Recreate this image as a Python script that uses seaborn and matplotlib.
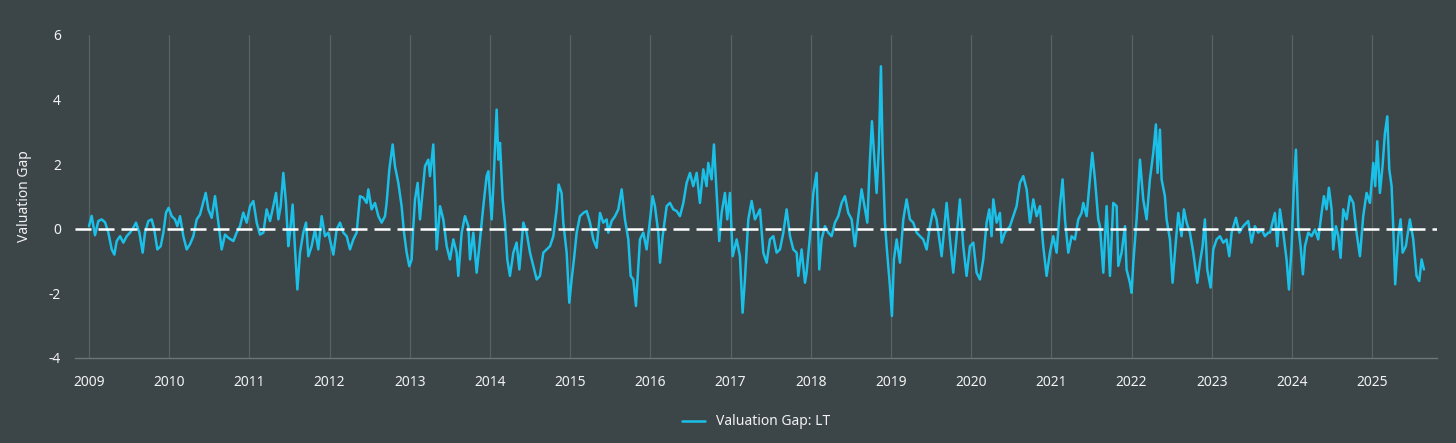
import pandas as pd
import matplotlib.pyplot as plt
import seaborn as sns

# ==========================================
# DATOS (año decimal / valor)
# ==========================================

years = [
    2009.000, 2009.033, 2009.075, 2009.116, 2009.158, 2009.200, 2009.241, 2009.283, 2009.316, 2009.345,
    2009.387, 2009.428, 2009.470, 2009.511, 2009.553, 2009.586, 2009.628, 2009.669, 2009.698, 2009.740,
    2009.781, 2009.810, 2009.852, 2009.894, 2009.927, 2009.960, 2009.993, 2010.031, 2010.072, 2010.101,
    2010.135, 2010.176, 2010.218, 2010.259, 2010.301, 2010.343, 2010.384, 2010.417, 2010.455, 2010.488,
    2010.530, 2010.571, 2010.613, 2010.654, 2010.696, 2010.737, 2010.800, 2010.841, 2010.883, 2010.924,
    2010.966,
    2011.008, 2011.049, 2011.091, 2011.132, 2011.174, 2011.215, 2011.257, 2011.298, 2011.332, 2011.361,
    2011.390, 2011.423, 2011.456, 2011.485, 2011.506, 2011.539, 2011.569, 2011.598, 2011.631, 2011.672,
    2011.706, 2011.735, 2011.776, 2011.818, 2011.859, 2011.901, 2011.943, 2011.984, 2012.047, 2012.088,
    2012.130, 2012.171, 2012.213, 2012.254, 2012.296, 2012.337, 2012.379, 2012.421, 2012.462, 2012.483,
    2012.524, 2012.566, 2012.608, 2012.649, 2012.691, 2012.711, 2012.745, 2012.786, 2012.815, 2012.857,
    2012.898, 2012.928, 2012.961, 2012.994, 2013.023, 2013.044, 2013.065, 2013.098,
    2013.127, 2013.190, 2013.231, 2013.252, 2013.293, 2013.314, 2013.335, 2013.377, 2013.418, 2013.439,
    2013.460, 2013.501, 2013.543, 2013.584, 2013.605, 2013.647, 2013.688, 2013.730, 2013.751, 2013.792,
    2013.834, 2013.875, 2013.917, 2013.958, 2013.979, 2014.021, 2014.042, 2014.083, 2014.104, 2014.125,
    2014.158, 2014.187, 2014.216, 2014.249, 2014.291, 2014.332, 2014.366, 2014.416, 2014.457, 2014.499,
    2014.540, 2014.582, 2014.623, 2014.665, 2014.706, 2014.748, 2014.790, 2014.831, 2014.856, 2014.893,
    2014.914, 2014.956, 2014.989, 2015.018, 2015.047, 2015.081, 2015.122, 2015.164, 2015.205,
    2015.247, 2015.288, 2015.330, 2015.372, 2015.413, 2015.455, 2015.475, 2015.517, 2015.559, 2015.600,
    2015.642, 2015.683, 2015.725, 2015.754, 2015.787, 2015.820, 2015.850, 2015.870, 2015.912, 2015.953,
    2015.987, 2016.028, 2016.057, 2016.099, 2016.120, 2016.153, 2016.203, 2016.244, 2016.286, 2016.327,
    2016.369, 2016.411, 2016.452, 2016.494, 2016.535, 2016.577, 2016.618, 2016.660, 2016.701, 2016.722,
    2016.764, 2016.793, 2016.826, 2016.859, 2016.888, 2016.930, 2016.959, 2016.992, 2017.026, 2017.076,
    2017.117, 2017.150, 2017.179, 2017.221, 2017.263, 2017.304, 2017.346,
    2017.367, 2017.408, 2017.450, 2017.491, 2017.533, 2017.574, 2017.616, 2017.658, 2017.699, 2017.741,
    2017.782, 2017.824, 2017.845, 2017.886, 2017.928, 2017.948, 2017.990, 2018.032, 2018.073, 2018.106,
    2018.135, 2018.177, 2018.219, 2018.260, 2018.302, 2018.343, 2018.385, 2018.426, 2018.468, 2018.510,
    2018.551, 2018.593, 2018.634, 2018.676, 2018.705, 2018.738, 2018.763, 2018.800, 2018.821, 2018.850,
    2018.875, 2018.896, 2018.925, 2018.946, 2018.987, 2019.012, 2019.037, 2019.071, 2019.112, 2019.154,
    2019.195, 2019.237, 2019.278, 2019.320, 2019.362, 2019.403, 2019.445,
    2019.486, 2019.528, 2019.569, 2019.632, 2019.694, 2019.736, 2019.777, 2019.819, 2019.860, 2019.902,
    2019.943, 2019.985, 2020.027, 2020.068, 2020.110, 2020.151, 2020.193, 2020.226, 2020.255, 2020.276,
    2020.318, 2020.359, 2020.380, 2020.421, 2020.484, 2020.525, 2020.567, 2020.608, 2020.650, 2020.692,
    2020.733, 2020.775, 2020.816, 2020.858, 2020.899, 2020.941, 2020.982, 2021.024, 2021.066, 2021.107,
    2021.140, 2021.170, 2021.211, 2021.253, 2021.294, 2021.336, 2021.377, 2021.398, 2021.440, 2021.481,
    2021.510, 2021.544, 2021.585,
    2021.606, 2021.648, 2021.689, 2021.731, 2021.772, 2021.814, 2021.835, 2021.876, 2021.918, 2021.938,
    2021.980, 2022.001, 2022.022, 2022.063, 2022.105, 2022.146, 2022.188, 2022.229, 2022.271, 2022.304,
    2022.325, 2022.354, 2022.375, 2022.416, 2022.437, 2022.479, 2022.512, 2022.541, 2022.583, 2022.624,
    2022.653, 2022.687, 2022.728, 2022.770, 2022.820, 2022.853, 2022.886, 2022.915, 2022.944, 2022.986,
    2023.019, 2023.061, 2023.102, 2023.144, 2023.185, 2023.219, 2023.248, 2023.302, 2023.343, 2023.393,
    2023.455, 2023.497, 2023.538, 2023.580, 2023.622, 2023.663, 2023.705,
    2023.726, 2023.767, 2023.788, 2023.817, 2023.850, 2023.892, 2023.933, 2023.963, 2023.996, 2024.025,
    2024.050, 2024.079, 2024.108, 2024.137, 2024.162, 2024.204, 2024.245, 2024.287, 2024.328, 2024.370,
    2024.399, 2024.432, 2024.461, 2024.495, 2024.515, 2024.549, 2024.578, 2024.607, 2024.640, 2024.682,
    2024.723, 2024.765, 2024.806, 2024.848, 2024.889, 2024.931, 2024.973, 2025.014, 2025.039, 2025.064,
    2025.097, 2025.130, 2025.160, 2025.189, 2025.214, 2025.243, 2025.263, 2025.288, 2025.326, 2025.355,
    2025.380, 2025.421, 2025.471, 2025.513, 2025.554, 2025.588, 2025.617, 2025.646,
]

gap = [
    0.08, 0.40, -0.20, 0.24, 0.29, 0.20, -0.12, -0.64, -0.80, -0.38,
    -0.23, -0.43, -0.23, -0.12, 0.03, 0.19, -0.12, -0.74, -0.12, 0.24,
    0.29, 0.03, -0.64, -0.54, -0.12, 0.50, 0.65, 0.39, 0.29, 0.08,
    0.39, -0.23, -0.64, -0.48, -0.23, 0.29, 0.44, 0.75, 1.11, 0.60,
    0.34, 1.01, 0.19, -0.64, -0.18, -0.28, -0.38, -0.12, 0.08, 0.50,
    0.19,
    0.70, 0.86, 0.19, -0.18, -0.12, 0.60, 0.24, 0.70, 1.11, 0.29,
    0.70, 1.73, 0.80, -0.54, -0.12, 0.75, -0.64, -1.88, -0.74, -0.12,
    0.19, -0.85, -0.54, -0.02, -0.64, 0.39, -0.23, -0.12, -0.80, -0.02,
    0.19, -0.12, -0.23, -0.64, -0.33, -0.12, 1.01, 0.96, 0.80, 1.22,
    0.60, 0.80, 0.39, 0.19, 0.39, 0.80, 1.84, 2.61, 1.94, 1.42,
    0.70, -0.12, -0.74, -1.16, -0.95, 0.08, 0.91, 1.42,
    0.29, 1.94, 2.14, 1.63, 2.61, 1.22, -0.64, 0.70, 0.29, -0.12,
    -0.54, -0.95, -0.33, -0.74, -1.46, -0.12, 0.39, 0.08, -0.95, -0.12,
    -1.36, -0.33, 0.70, 1.63, 1.78, 0.29, 1.32, 3.69, 2.14, 2.66,
    0.91, 0.19, -0.95, -1.46, -0.74, -0.43, -1.26, 0.19, -0.12, -0.74,
    -1.15, -1.57, -1.46, -0.74, -0.64, -0.54, -0.23, 0.60, 1.37, 1.11,
    0.19, -0.74, -2.29, -1.57, -0.95, -0.12, 0.39, 0.49, 0.55,
    0.19, -0.33, -0.59, 0.49, 0.19, 0.29, -0.12, 0.24, 0.39, 0.60,
    1.22, 0.29, -0.33, -1.46, -1.57, -2.39, -1.15, -0.33, -0.12, -0.64,
    0.08, 1.01, 0.70, -0.12, -1.05, -0.23, 0.70, 0.80, 0.60, 0.55,
    0.39, 0.80, 1.42, 1.73, 1.32, 1.73, 0.80, 1.84, 1.32, 2.04,
    1.53, 2.61, 1.11, -0.38, 0.49, 1.11, 0.29, 1.11, -0.85, -0.33,
    -0.85, -2.60, -1.57, 0.29, 0.86, 0.29, 0.49,
    0.60, -0.74, -1.05, -0.33, -0.23, -0.74, -0.64, -0.12, 0.60, -0.23,
    -0.64, -0.74, -1.46, -0.64, -1.67, -1.36, -0.23, 1.11, 1.73, -1.26,
    -0.33, 0.08, -0.12, -0.23, 0.19, 0.39, 0.80, 1.01, 0.49, 0.29,
    -0.54, 0.39, 1.22, 0.60, 0.19, 2.14, 3.33, 1.94, 1.11, 2.56,
    5.03, 2.35, 0.19, -0.54, -1.77, -2.70, -0.95, -0.33, -1.05, 0.29,
    0.91, 0.29, 0.19, -0.12, -0.23, -0.33, -0.64,
    0.08, 0.60, 0.29, -0.85, 0.80, -0.33, -1.36, -0.23, 0.91, -0.54,
    -1.46, -0.54, -0.43, -1.36, -1.57, -0.95, 0.19, 0.60, -0.23, 0.91,
    0.19, 0.49, -0.43, -0.12, 0.08, 0.39, 0.70, 1.42, 1.63, 1.22,
    0.19, 0.91, 0.39, 0.70, -0.54, -1.46, -0.74, -0.23, -0.74, 0.70,
    1.53, 0.29, -0.74, -0.23, -0.33, 0.29, 0.49, 0.80, 0.39, 1.53,
    2.35, 1.53, 0.29,
    0.08, -1.36, 0.70, -1.46, 0.80, 0.70, -1.15, -0.74, 0.08, -1.26,
    -1.67, -1.98, -1.05, 0.29, 2.14, 0.91, 0.29, 1.53, 2.35, 3.23,
    1.73, 3.07, 1.53, 1.01, 0.29, -0.33, -1.67, -0.74, 0.49, -0.23,
    0.60, 0.19, -0.12, -0.74, -1.67, -1.05, -0.54, 0.29, -1.26, -1.82,
    -0.64, -0.33, -0.23, -0.43, -0.33, -0.85, -0.12, 0.34, -0.12, 0.08,
    0.24, -0.43, 0.08, -0.12, -0.02, -0.23, -0.12,
    -0.12, 0.29, 0.49, -0.54, 0.60, -0.12, -0.95, -1.88, -0.54, 1.32,
    2.45, 0.08, -0.54, -1.41, -0.54, -0.12, -0.23, -0.02, -0.33, 0.49,
    1.01, 0.60, 1.27, 0.60, -0.64, 0.08, -0.23, -0.90, 0.60, 0.29,
    1.01, 0.80, -0.12, -0.85, 0.39, 1.11, 0.80, 2.04, 1.32, 2.71,
    1.11, 1.94, 2.97, 3.48, 1.84, 1.32, 0.08, -1.72, -0.23, 0.29,
    -0.74, -0.54, 0.29, -0.33, -1.46, -1.62, -0.95, -1.26,
]

year_ticks = list(range(2009, 2026))
y_ticks = [-4, -2, 0, 2, 4, 6]
series_name = "Valuation Gap: LT"

# ==========================================
# ESTILO
# ==========================================
BG = "#3c4548"
LINE = "#1ac0e8"
GRID = "#59625f"
TXT = "#f2f2f2"

sns.set_style("dark", {"axes.facecolor": BG, "figure.facecolor": BG})
plt.rcParams['font.family'] = ['Noto Sans', 'DejaVu Sans']
plt.rcParams['axes.unicode_minus'] = False

df = pd.DataFrame({"anio": years, "gap": gap, "serie": series_name})

fig = plt.figure(figsize=(14.56, 4.43), dpi=100)
ax = fig.add_axes([0.0515, 0.192, 0.9355, 0.729])
ax.set_facecolor(BG)

sns.lineplot(data=df, x="anio", y="gap", hue="serie", palette={series_name: LINE},
             linewidth=1.8, ax=ax, zorder=3)

# linea punteada en cero (encima de la serie)
ax.axhline(0, color="white", linewidth=1.8, linestyle=(0, (6.4, 2.8)), zorder=4)

ax.set_xlim(2008.825, 2025.81)
ax.set_ylim(-4, 6)
ax.set_xticks(year_ticks)
ax.set_xticklabels([str(y) for y in year_ticks])
ax.set_yticks(y_ticks)

# grilla vertical por año
for y in year_ticks:
    ax.axvline(y, color=GRID, linewidth=0.9, zorder=1)

for side in ["top", "right", "left"]:
    ax.spines[side].set_visible(False)
ax.spines["bottom"].set_color("#6d7578")
ax.spines["bottom"].set_linewidth(1.0)

ax.tick_params(axis="both", colors=TXT, labelsize=10, length=0)
ax.tick_params(axis="x", pad=12)
ax.tick_params(axis="y", pad=10)
ax.set_xlabel("")
ax.set_ylabel("Valuation Gap", color=TXT, fontsize=10, labelpad=12)

handles, labels = ax.get_legend_handles_labels()
ax.legend(handles, labels, loc="center", bbox_to_anchor=(0.5, -0.198),
          frameon=False, fontsize=10, labelcolor=TXT, handlelength=1.6)

fig.savefig("out.png", dpi=100, facecolor=BG)
